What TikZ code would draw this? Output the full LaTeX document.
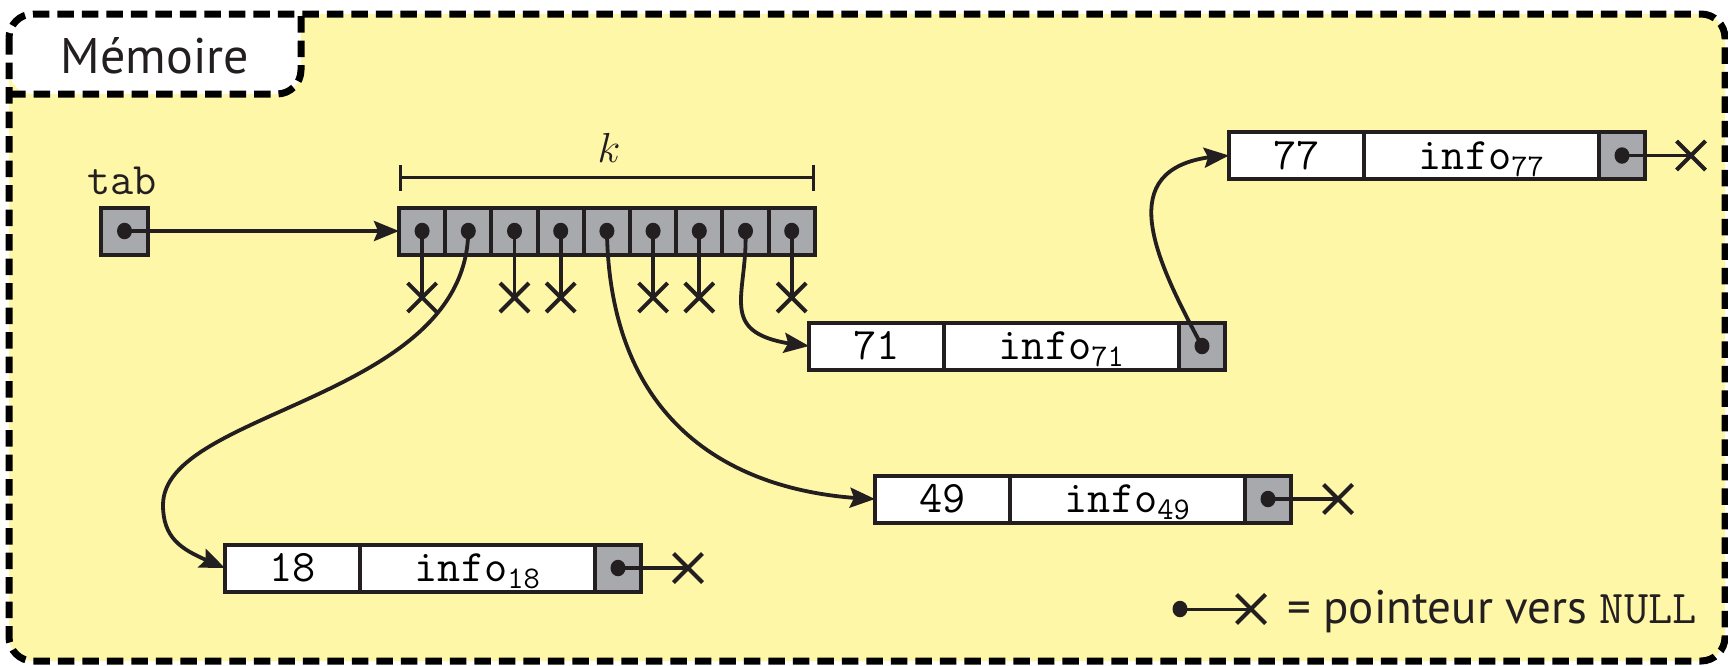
\RequirePackage{fix-cm}
\documentclass[tikz,border=0pt]{standalone}
\usepackage{fontspec}
\setmainfont{PT Sans}
\usetikzlibrary{arrows.meta,shapes.misc,shapes.geometric,bending}
\definecolor{bgy}{RGB}{255,247,168}
\definecolor{cellgray}{RGB}{167,169,172}
\definecolor{ink}{RGB}{35,31,32}
\tikzset{
 frm/.style={draw=black,line width=7pt,dash pattern=on 16.5pt off 8pt,rounded corners=24pt},
 cellbox/.style={draw=ink,line width=4pt,minimum height=47pt,inner sep=0pt,outer sep=0pt,font=\ttfamily\fontsize{45}{45}\selectfont,text height=27.5pt,text depth=0pt},
 cellw/.style={cellbox,fill=white},
 cellg/.style={cellbox,fill=cellgray},
 dotn/.style={ellipse,fill=ink,inner sep=0pt,minimum width=15pt,minimum height=16.5pt},
 nullx/.style={cross out,draw=ink,line width=4pt,minimum size=25pt,inner sep=0pt},
 ptr/.style={draw=ink,line width=3.8pt},
 arr/.style={ptr,-{Stealth[length=25pt,width=20pt,inset=4pt]}},
}
\newcommand{\lrec}[4]{%
 \node[cellw,minimum width=135pt,anchor=west] (#1k) at (#2,#3) {#4};
 \node[cellw,minimum width=235pt,anchor=west] (#1i) at (#1k.east) {info\textsubscript{#4}};
 \node[cellg,minimum width=46pt,anchor=west] (#1p) at (#1i.east) {};
 \node[dotn] (#1d) at (#1p.center) {};
}
\begin{document}
\begin{tikzpicture}[x=1pt,y=1pt]
\useasboundingbox (0,0) rectangle (1728,-665);
% frame
\fill[bgy,rounded corners=24pt] (9,-14) rectangle (1725,-661);
\fill[white,rounded corners=24pt] (9,-14) rectangle (301,-94);
\fill[white] (9,-14) rectangle (60,-60);
\fill[white] (9,-14) rectangle (301,-40);
\draw[frm] (9,-94) -- (301,-94) -- (301,-14);
\draw[frm] (9,-14) rectangle (1725,-661);
\node[font=\fontsize{50}{50}\selectfont,anchor=base,text=ink] (memt) at (155,-73) {Mémoire};
% tab
\node[font=\ttfamily\fontsize{45}{45}\selectfont,text=ink] (tablbl) at (122,-181) {tab};
\node[cellg,minimum width=47pt] (tabbox) at (124.5,-231) {};
\node[dotn] (tabd) at (tabbox.center) {};
% array
\foreach \i in {1,...,9} {
 \node[cellg,minimum width=46.2pt] (a\i) at ({422.1+46.2*(\i-1)},-231) {};
 \node[dotn] (d\i) at (a\i.center) {};
}
\draw[arr] (tabd.center) -- (a1.west);
% k
\coordinate (kL) at (399,-177.5);
\coordinate (kR) at (815,-177.5);
\draw[draw=ink,line width=2.8pt,{Bar[width=26pt]}-{Bar[width=26pt]}] (kL) -- (kR);
\node[text=ink] (klbl) at (609,-148) {\fontsize{42}{42}\selectfont$k$};
% null pointers of array
\foreach \i in {1,3,4,6,7,9} {
 \node[nullx] (x\i) at ({422.1+46.2*(\i-1)},-297.5) {};
 \draw[ptr] (d\i.center) -- (x\i.center);
}
% records
\lrec{n18}{225}{-568}{18}
\lrec{n49}{875}{-499}{49}
\lrec{n71}{809}{-346}{71}
\lrec{n77}{1229}{-155.5}{77}
\node[nullx] (x18) at (688,-568) {};
\node[nullx] (x49) at (1338,-499) {};
\node[nullx] (x77) at (1691,-155.5) {};
\draw[ptr] (n18d.center) -- (x18.center);
\draw[ptr] (n49d.center) -- (x49.center);
\draw[ptr] (n77d.center) -- (x77.center);
% curved pointers
\coordinate (b18) at (163,-505);
\draw[arr] (d2.center) .. controls (466,-400) and (163,-410) .. (b18) .. controls (163,-545) and (190,-553) .. (n18k.west);
\draw[arr] (d5.center) .. controls (610,-430) and (740,-495) .. (n49k.west);
\draw[arr] (d8.center) .. controls (748,-300) and (712,-337) .. (n71k.west);
\draw[arr] (n71d.center) .. controls (1150,-250) and (1110,-160) .. (n77k.west);
% legend
\node[dotn] (lgd) at (1180,-609) {};
\node[nullx] (lgx) at (1251,-609) {};
\draw[ptr,line width=3pt] (lgd.center) -- (lgx.center);
\node[anchor=base west,inner sep=0pt,font=\fontsize{47}{47}\selectfont,text=ink] (lgt) at (1287,-623) {= pointeur vers \texttt{NULL}};
\end{tikzpicture}
\end{document}
